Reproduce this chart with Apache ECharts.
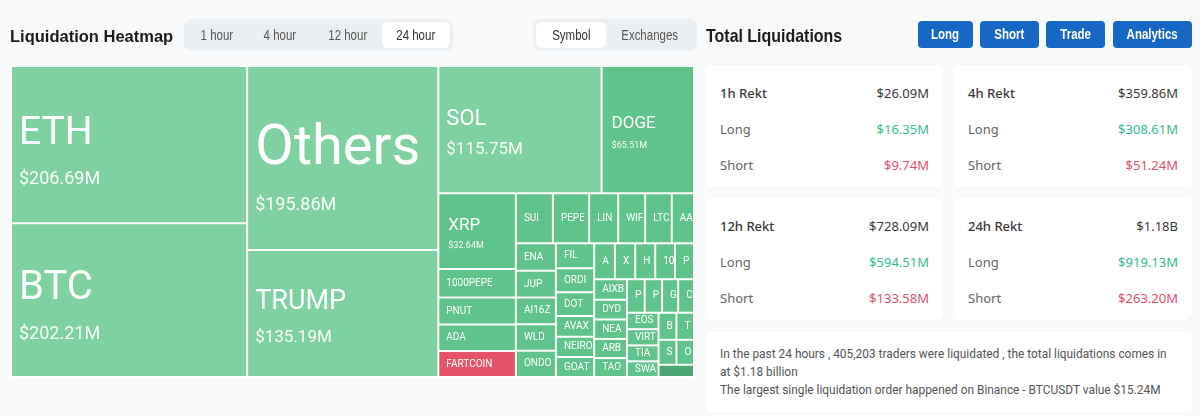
<!DOCTYPE html>
<html>
<head>
<meta charset="utf-8">
<script src="https://cdn.jsdelivr.net/npm/echarts/dist/echarts.min.js"></script>
<style>
  html, body { margin: 0; padding: 0; }
  body { width: 1200px; height: 416px; background: #f8f9fa; position: relative; overflow: hidden; font-family: "Noto Sans", sans-serif; }
  .abs { position: absolute; }
  .sx { display: inline-block; transform: scaleX(0.82); }
  #title { left: 10px; top: 27px; font: bold 16.5px "Liberation Sans", Arial, sans-serif; line-height: 19px; color: #1b1b1b; white-space: nowrap; }
  .seg { background: #eceff2; border-radius: 8px; height: 32px; top: 19px; }
  .seg div { position: absolute; top: 3px; height: 26px; text-align: center; font: 14px "Liberation Sans", Arial, sans-serif; line-height: 26px; color: #555; white-space: nowrap; }
  .seg div.on { background: #fff; border-radius: 6px; color: #333; }
  #tl { left: 706px; top: 25px; font: bold 19px "Liberation Sans", Arial, sans-serif; line-height: 21px; color: #1b1b1b; white-space: nowrap; }
  #tl .sx { transform: scaleX(0.84); transform-origin: left center; }
  .btn { top: 21px; height: 27px; background: #1767c4; color: #fff; border-radius: 4px; text-align: center; font: bold 14px "Liberation Sans", Arial, sans-serif; line-height: 27px; white-space: nowrap; }
  .card { background: #fff; border-radius: 6px; box-shadow: 0 0 2px rgba(0,0,0,0.03); }
  .row { position: absolute; left: 14px; right: 14px; height: 20px; line-height: 20px; font-size: 13px; white-space: nowrap; }
  .row .k { position: absolute; left: 0; color: #666; }
  .row .v { position: absolute; right: 0; color: #3a3a3a; }
  .row.h .k { color: #3a3a3a; font-weight: 500; }
  .g { color: #35bc8c !important; }
  .r { color: #df4f6a !important; }
  #note { left: 706px; top: 332px; width: 486px; height: 80px; }
  #note p { margin: 0; position: absolute; left: 14px; top: 13px; font-family: Roboto, sans-serif; font-size: 11.9px; line-height: 18.2px; color: #555; white-space: nowrap; }
  #chart { left: 0; top: 0; width: 700px; height: 416px; }
</style>
</head>
<body>
<div id="chart" class="abs"></div>
<div id="title" class="abs">Liquidation Heatmap</div>
<div id="tabs1" class="abs seg"></div>
<div id="tabs2" class="abs seg"></div>
<div id="tl" class="abs"><span class="sx">Total Liquidations</span></div>
<div id="btns"></div>
<div id="cards"></div>
<div id="note" class="abs card"><p>In the past 24 hours , 405,203 traders were liquidated , the total liquidations comes in<br>at $1.18 billion<br>The largest single liquidation order happened on Binance - BTCUSDT value $15.24M</p></div>
<script>
// ---------------- data ----------------
const coins = ['ETH','BTC','Others','TRUMP','SOL','DOGE','XRP',
  '1000PEPE','PNUT','ADA','FARTCOIN',
  'SUI','PEPE','LINK','WIF','LTC','AAVE',
  'ENA','JUP','AI16Z','WLD','ONDO',
  'FIL','ORDI','DOT','AVAX','NEIRO','GOAT',
  'ACT','XLM','HBAR','1000SATS','POPCAT',
  'AIXBT','DYDX','NEAR','ARB','TAO',
  'PENGU','PEOPLE','GRASS','CRV',
  'EOS','VIRTUAL','TIA','SWARMS',
  'BOME','TURBO','SONIC','OP','USUAL'];
const liqValues = [206.69,202.21,195.86,135.19,115.75,65.51,32.64,
  12.4,11.6,11.5,11.2,
  10.3,10.1,8.1,7.5,7.4,6.2,
  6.1,6.0,5.95,5.9,5.85,
  5.3,5.1,5.05,4.45,4.3,4.25,
  4.15,4.05,4.0,3.95,3.8,
  3.75,3.6,3.55,3.5,3.45,
  3.3,3.25,3.0,2.95,
  2.9,2.85,2.8,2.75,
  2.7,2.65,2.5,2.45,2.4];
const timeTabs = ['1 hour','4 hour','12 hour','24 hour'];
const viewTabs = ['Symbol','Exchanges'];
const actionButtons = ['Long','Short','Trade','Analytics'];
const rektPeriods = ['1h Rekt','4h Rekt','12h Rekt','24h Rekt'];
const rektTotal = ['$26.09M','$359.86M','$728.09M','$1.18B'];
const rektLong = ['$16.35M','$308.61M','$594.51M','$919.13M'];
const rektShort = ['$9.74M','$51.24M','$133.58M','$263.20M'];

// ---------------- styles ----------------
const lightGreen = '#7fd1a1', midGreen = '#5fc38b';
const cellColor = { ETH: lightGreen, BTC: lightGreen, Others: lightGreen, TRUMP: lightGreen, SOL: lightGreen,
  FARTCOIN: '#e5536b', USUAL: '#4aa874' };
// [name font size, value font size, name centre dy, value centre dy] (dy relative to cell centre)
const bigLabel = { ETH:[39,18,-14.5,33], BTC:[40,18,-15.3,33.3], Others:[56,18,-14.5,45.5],
  TRUMP:[27,17,-13.8,22.5], SOL:[22,17,-12.7,18.5], DOGE:[17,9,-6.8,15.8], XRP:[17,9,-6.7,14.8] };
const LBL_INSET = 2, CAP_SHIFT = 0.14;

function buildData(layouts) {
  return coins.map((n, i) => {
    const item = { name: n, value: liqValues[i], itemStyle: { color: cellColor[n] || midGreen } };
    const b = bigLabel[n];
    if (b) {
      const L1 = Math.round(b[0] * 1.2);
      let pad = 0, L2 = Math.round(b[1] * 1.3);
      const lay = layouts && layouts[n];
      if (lay) {
        const nC = lay.height / 2 + b[2] + CAP_SHIFT * b[0];
        const vC = lay.height / 2 + b[3] + CAP_SHIFT * b[1];
        pad = Math.max(0, nC - LBL_INSET - L1 / 2);
        L2 = Math.max(b[1], 2 * (vC - nC) - L1);
      }
      item.label = {
        formatter: '{n|{b}}\n{v|$' + liqValues[i].toFixed(2) + 'M}',
        padding: [pad, 0, 0, b[0] < 20 ? 7 : 5],
        rich: {
          n: { fontSize: b[0], lineHeight: L1, color: '#fff', fontFamily: 'Roboto' },
          v: { fontSize: b[1], lineHeight: L2, color: 'rgba(255,255,255,0.95)', fontFamily: 'Roboto' }
        }
      };
    }
    return item;
  });
}

const chart = echarts.init(document.getElementById('chart'), null, { renderer: 'canvas' });
const option = {
  animation: false,
  series: [{
    type: 'treemap',
    left: 10, top: 65, width: 685, height: 313,
    roam: false, nodeClick: false, silent: true,
    breadcrumb: { show: false },
    itemStyle: { borderColor: 'rgba(255,255,255,0.65)', borderWidth: 1, gapWidth: 0 },
    label: { show: true, position: 'insideLeft', distance: LBL_INSET, padding: [0, 0, 0, 5],
      color: '#fff', fontSize: 10, lineHeight: 11,
      fontFamily: 'Roboto', overflow: 'truncate', ellipsis: '' },
    data: buildData(null)
  }]
};
chart.setOption(option);
// second pass: use the library's own layout to centre the two-line labels
const sData = chart.getModel().getSeriesByIndex(0).getData();
const layouts = {};
for (let i = 0; i < sData.count(); i++) {
  const l = sData.getItemLayout(i);
  if (l) layouts[sData.getName(i)] = l;
}
option.series[0].data = buildData(layouts);
chart.setOption(option);

// ---------------- UI ----------------
function seg(el, labels, left, widths, active) {
  el.style.left = left + 'px';
  let x = 3;
  labels.forEach((t, i) => {
    const d = document.createElement('div');
    d.innerHTML = '<span class="sx">' + t + '</span>';
    d.style.left = x + 'px';
    d.style.width = widths[i] + 'px';
    if (i === active) d.className = 'on';
    el.appendChild(d);
    x += widths[i];
  });
  el.style.width = (x + 3) + 'px';
}
seg(document.getElementById('tabs1'), timeTabs, 184, [60, 66, 69, 68], 3);
seg(document.getElementById('tabs2'), viewTabs, 533, [70, 88], 0);

const btnPos = [[918, 55], [980, 59], [1046, 59], [1113, 79]];
actionButtons.forEach((t, i) => {
  const d = document.createElement('div');
  d.className = 'abs btn';
  d.innerHTML = '<span class="sx">' + t + '</span>';
  d.style.left = btnPos[i][0] + 'px';
  d.style.width = btnPos[i][1] + 'px';
  document.getElementById('btns').appendChild(d);
});

const cardPos = [[706, 65, 237], [954, 65, 238], [706, 198, 237], [954, 198, 238]];
rektPeriods.forEach((p, i) => {
  const c = document.createElement('div');
  c.className = 'abs card';
  c.style.left = cardPos[i][0] + 'px';
  c.style.top = cardPos[i][1] + 'px';
  c.style.width = cardPos[i][2] + 'px';
  c.style.height = '122px';
  const rows = [['h', p, rektTotal[i], ''], ['', 'Long', rektLong[i], 'g'], ['', 'Short', rektShort[i], 'r']];
  rows.forEach((r, j) => {
    const d = document.createElement('div');
    d.className = 'row ' + r[0];
    d.style.top = (17.5 + 36 * j) + 'px';
    d.innerHTML = '<span class="k">' + r[1] + '</span><span class="v ' + r[3] + '">' + r[2] + '</span>';
    c.appendChild(d);
  });
  document.getElementById('cards').appendChild(c);
});
</script>
</body>
</html>
